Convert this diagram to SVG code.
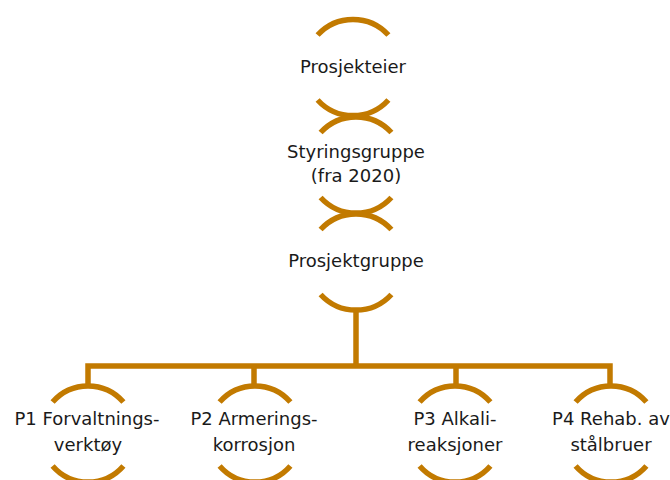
<svg xmlns="http://www.w3.org/2000/svg" width="670" height="480" viewBox="0 0 670 480">
<style>
.arc{fill:none;stroke:#c27a00;stroke-width:5.5}
.con{fill:none;stroke:#c27a00;stroke-width:5.5}
text{font-family:"DejaVu Sans",sans-serif;font-size:18px;fill:#1a1a1a;text-anchor:middle}
</style>
<rect width="670" height="480" fill="#ffffff"/>
<g id="connectors">
<path class="con" d="M356,309 V366"/>
<path class="con" d="M88,387 V366 H610 V387"/>
<path class="con" d="M254,366 V387"/>
<path class="con" d="M456,366 V387"/>
</g>
<g id="prosjekteier">
<path class="arc" d="M317.6,35 A48,48 0 0 1 388.4,35"/>
<path class="arc" d="M317.6,100 A48,48 0 0 0 388.4,100"/>
<text x="353" y="73">Prosjekteier</text>
</g>
<g id="styringsgruppe">
<path class="arc" d="M320.6,132.5 A48,48 0 0 1 391.4,132.5"/>
<path class="arc" d="M320.6,197.5 A48,48 0 0 0 391.4,197.5"/>
<text x="356" y="158">Styringsgruppe</text>
<text x="356" y="182">(fra 2020)</text>
</g>
<g id="prosjektgruppe">
<path class="arc" d="M320.6,229.5 A48,48 0 0 1 391.4,229.5"/>
<path class="arc" d="M320.6,294.5 A48,48 0 0 0 391.4,294.5"/>
<text x="356" y="267">Prosjektgruppe</text>
</g>
<g id="p1">
<path class="arc" d="M52.6,402 A47,47 0 0 1 123.4,402"/>
<path class="arc" d="M52.6,466 A47,47 0 0 0 123.4,466"/>
<text x="87" y="425">P1 Forvaltnings-</text>
<text x="88" y="451">verktøy</text>
</g>
<g id="p2">
<path class="arc" d="M219.6,402 A47,47 0 0 1 290.4,402"/>
<path class="arc" d="M219.6,466 A47,47 0 0 0 290.4,466"/>
<text x="254" y="425">P2 Armerings-</text>
<text x="254" y="451">korrosjon</text>
</g>
<g id="p3">
<path class="arc" d="M419.6,402 A47,47 0 0 1 490.4,402"/>
<path class="arc" d="M419.6,466 A47,47 0 0 0 490.4,466"/>
<text x="455" y="425">P3 Alkali-</text>
<text x="455" y="451">reaksjoner</text>
</g>
<g id="p4">
<path class="arc" d="M575.6,402 A47,47 0 0 1 646.4,402"/>
<path class="arc" d="M575.6,466 A47,47 0 0 0 646.4,466"/>
<text x="611" y="425">P4 Rehab. av</text>
<text x="611" y="451">stålbruer</text>
</g>
</svg>
